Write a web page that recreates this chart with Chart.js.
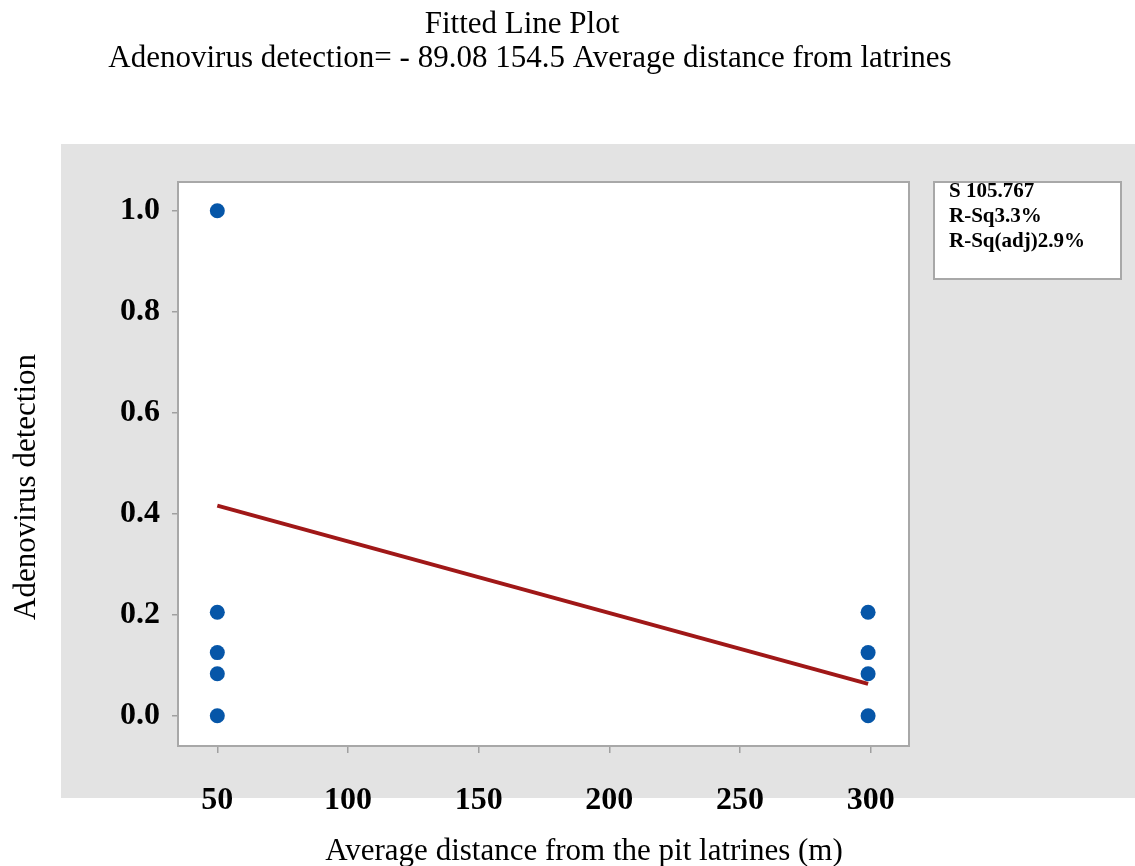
<!DOCTYPE html>
<html>
<head>
<meta charset="utf-8">
<title>Fitted Line Plot</title>
<script src="https://cdn.jsdelivr.net/npm/chart.js@4.4.1/dist/chart.umd.min.js"></script>
<style>
  html, body { margin: 0; padding: 0; background: #fff; }
  #wrap { position: relative; width: 1135px; height: 866px; }
</style>
</head>
<body>
<div id="wrap"><canvas id="fit" width="1135" height="866"></canvas></div>
<script>
// observations (distance, detection)
const distanceX = [50, 50, 50, 50, 50, 299, 299, 299, 299];
const detectionY = [1.0, 0.205, 0.125, 0.083, 0.0, 0.205, 0.125, 0.083, 0.0];

// fitted line end points
const fitX = [50, 299];
const fitY = [0.416, 0.063];

const xTicks = [50, 100, 150, 200, 250, 300];
const yTicks = [0, 0.2, 0.4, 0.6, 0.8, 1.0];

const titleLines = ['Fitted Line Plot', 'Adenovirus detection= - 89.08 154.5 Average distance from latrines'];
const statLines = ['S 105.767', 'R-Sq3.3%', 'R-Sq(adj)2.9%'];
const xTitle = 'Average distance from the pit latrines (m)';
const yTitle = 'Adenovirus detection';

const SERIF = '"Liberation Serif", "Times New Roman", serif';

// gray panel, white plot area, frame, stats box and titles
const framePlugin = {
  id: 'frame',
  beforeDraw(chart) {
    const { ctx, chartArea: a } = chart;
    ctx.save();
    ctx.fillStyle = '#e3e3e3';
    ctx.fillRect(61, 144, chart.width - 61, 654);
    ctx.fillStyle = '#fff';
    ctx.fillRect(a.left, a.top, a.right - a.left, a.bottom - a.top);
    ctx.restore();
  },
  beforeDatasetsDraw(chart) {
    const { ctx, chartArea: a } = chart;
    ctx.save();
    ctx.strokeStyle = '#a8a8a8';
    ctx.lineWidth = 2;
    ctx.strokeRect(a.left, a.top, a.right - a.left, a.bottom - a.top);
    ctx.restore();
  },
  afterDraw(chart) {
    const { ctx } = chart;
    ctx.save();
    ctx.fillStyle = '#fff';
    ctx.fillRect(934, 182, 187, 97);
    ctx.strokeStyle = '#a8a8a8';
    ctx.lineWidth = 2;
    ctx.strokeRect(934, 182, 187, 97);

    ctx.fillStyle = '#000';
    ctx.textBaseline = 'alphabetic';
    ctx.font = `bold 21px ${SERIF}`;
    statLines.forEach((s, i) => ctx.fillText(s, 949, 197 + i * 25));

    ctx.font = `31px ${SERIF}`;
    ctx.textAlign = 'center';
    ctx.fillText(titleLines[0], 522, 33);
    ctx.fillText(titleLines[1], 530, 67);
    ctx.fillText(xTitle, 584, 860);

    ctx.translate(35, 487);
    ctx.rotate(-Math.PI / 2);
    ctx.fillText(yTitle, 0, 0);
    ctx.restore();
  },
};

const tickFont = { family: SERIF, size: 32, weight: 'bold' };

new Chart(document.getElementById('fit'), {
  type: 'scatter',
  data: {
    datasets: [
      {
        type: 'scatter',
        label: 'Observed',
        data: distanceX.map((x, i) => ({ x, y: detectionY[i] })),
        backgroundColor: '#0656a8',
        borderWidth: 0,
        pointRadius: 7.5,
        order: 0,
      },
      {
        type: 'line',
        label: 'Fit',
        data: fitX.map((x, i) => ({ x, y: fitY[i] })),
        borderColor: '#a01818',
        borderWidth: 4,
        pointRadius: 0,
        fill: false,
        order: 1,
      },
    ],
  },
  options: {
    responsive: false,
    animation: false,
    layout: { padding: { left: 61, top: 182, right: 226, bottom: 0 } },
    plugins: {
      legend: { display: false },
      tooltip: { enabled: false },
    },
    scales: {
      x: {
        type: 'linear',
        min: 34.96,
        max: 314.65,
        afterFit: (s) => { s.height = 120; },
        afterBuildTicks: (s) => { s.ticks = xTicks.map((v) => ({ value: v })); },
        border: { display: false },
        grid: { drawOnChartArea: false, drawTicks: true, tickLength: 7, color: '#a0a0a0', lineWidth: 1.5 },
        ticks: {
          font: tickFont,
          color: '#000',
          padding: 29,
          maxRotation: 0,
          callback: (v) => String(v),
        },
      },
      y: {
        type: 'linear',
        min: -0.06,
        max: 1.057,
        afterFit: (s) => { s.width = 117; },
        afterBuildTicks: (s) => { s.ticks = yTicks.map((v) => ({ value: v })); },
        border: { display: false },
        grid: { drawOnChartArea: false, drawTicks: true, tickLength: 6, color: '#a0a0a0', lineWidth: 1.5 },
        ticks: {
          font: tickFont,
          color: '#000',
          padding: 12,
          callback: (v) => Number(v).toFixed(1),
        },
      },
    },
  },
  plugins: [framePlugin],
});
</script>
</body>
</html>
